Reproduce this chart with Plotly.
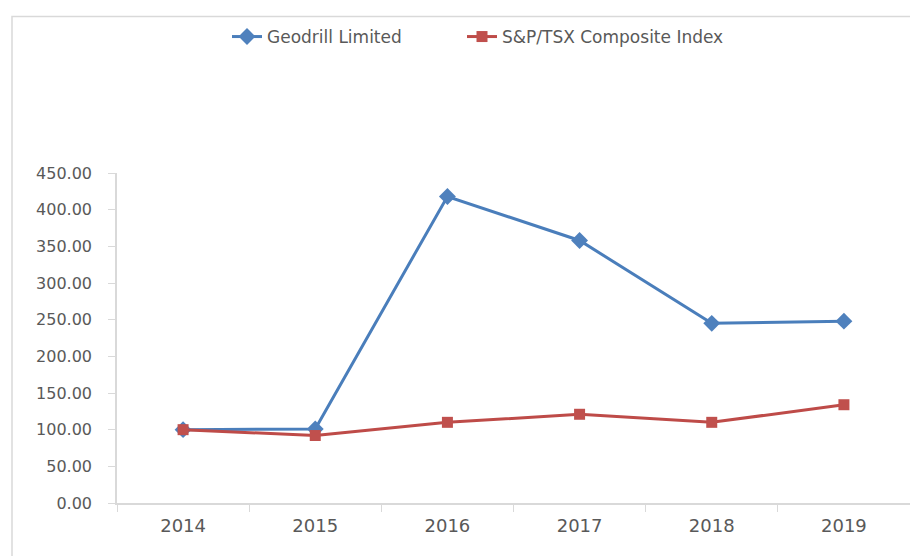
import plotly.graph_objects as go

years = ["2014", "2015", "2016", "2017", "2018", "2019"]
geodrill = [100.0, 101.0, 418.0, 358.0, 245.0, 248.0]
sptsx = [100.0, 92.0, 110.0, 121.0, 110.0, 134.0]
y_ticks = [0, 50, 100, 150, 200, 250, 300, 350, 400, 450]

W, H = 918, 556
OFF = 8  # page body margin offset
# target screen positions of plot area
SX0, SX1, SY0, SY1 = 117, 910, 172, 503
L = SX0 - OFF
R = W - (SX1 - OFF)
T = SY0 - OFF
B = H - (SY1 - OFF)
pw = W - L - R
ph = H - T - B


def px_x(v):
    return (v - OFF - L) / pw


def px_y(v):
    return (H - B - (v - OFF)) / ph


fig = go.Figure()
fig.add_trace(go.Scatter(
    x=years, y=geodrill, name="Geodrill Limited", mode="lines+markers",
    line=dict(color="#4A7EBB", width=3),
    marker=dict(symbol="diamond", size=13, color="#4F81BD"),
    legend="legend",
))
fig.add_trace(go.Scatter(
    x=years, y=sptsx, name="S&P/TSX Composite Index", mode="lines+markers",
    line=dict(color="#BE4B48", width=3),
    marker=dict(symbol="square", size=11, color="#C0504D"),
    legend="legend2",
))

legfont = dict(family="DejaVu Sans", size=17, color="#595959")
fig.update_layout(
    width=W, height=H,
    margin=dict(l=L, r=R, t=T, b=B),
    paper_bgcolor="white", plot_bgcolor="white",
    showlegend=True,
    legend=dict(orientation="h", x=px_x(227), xanchor="left",
                y=px_y(37), yanchor="middle", font=legfont,
                bgcolor="rgba(0,0,0,0)"),
    legend2=dict(orientation="h", x=px_x(462), xanchor="left",
                 y=px_y(37), yanchor="middle", font=legfont,
                 bgcolor="rgba(0,0,0,0)"),
    xaxis=dict(type="category", range=[-0.5, 5.5], showgrid=False,
               showline=True, linecolor="#D9D9D9", linewidth=1.5,
               ticks="outside", tickson="boundaries", ticklen=7, tickcolor="#D9D9D9",
               tickfont=dict(family="DejaVu Sans", size=18, color="#595959"),
               ticklabelstandoff=6, zeroline=False),
    yaxis=dict(range=[0, 450], tickvals=y_ticks, tickformat=".2f", showgrid=False,
               showline=True, linecolor="#D9D9D9", linewidth=1.5,
               ticks="outside", ticklen=7, tickcolor="#D9D9D9",
               tickfont=dict(family="DejaVu Sans", size=16, color="#595959"),
               zeroline=False, ticklabelstandoff=13),
)

fig.add_shape(type="rect", xref="paper", yref="paper",
              x0=px_x(12), x1=px_x(917),
              y0=px_y(562), y1=px_y(15),
              line=dict(color="#D9D9D9", width=1.5), fillcolor="rgba(0,0,0,0)", layer="below")

fig.write_html("out.html")
